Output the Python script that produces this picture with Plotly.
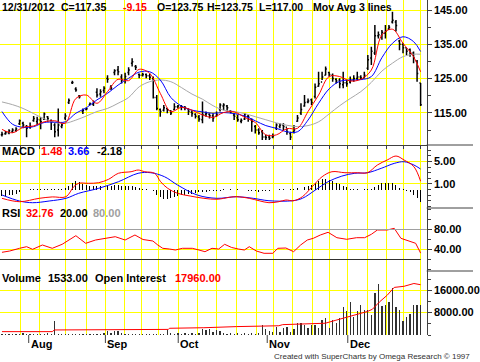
import plotly.graph_objects as go

# ---------------- data ----------------
bar_index = list(range(120))

high = [109.5,109.7,110.2,110.5,110.8,113.1,112.4,111.5,112.2,114.1,113.9,113.7,115.1,114.1,113.1,112.0,116.3,112.2,114.9,119.2,
        124.4,122.5,120.2,116.3,116.6,118.0,118.6,122.2,121.9,122.8,126.0,123.1,127.7,128.7,126.3,126.7,128.3,130.9,129.0,
        126.5,126.7,126.5,126.5,125.6,120.2,116.3,117.3,116.3,115.8,117.8,117.3,117.3,117.0,116.3,115.8,114.9,114.4,118.3,115.4,
        114.9,114.9,115.4,117.8,117.8,117.3,115.8,114.9,114.4,113.4,114.9,114.4,113.4,111.5,110.5,110.0,108.6,108.6,109.0,112.0,112.0,
        112.0,110.5,109.5,111.5,114.4,117.8,120.2,119.2,119.2,123.6,127.0,127.0,128.5,127.0,126.5,125.1,125.1,127.0,124.6,125.6,
        126.0,127.0,126.0,127.0,131.9,134.3,140.6,138.7,139.2,140.6,140.6,144.5,142.1,136.3,135.3,133.8,133.8,132.9,130.4,123.75]
low = [108.1,108.6,108.8,109.2,109.5,111.5,110.5,107.9,110.4,112.4,111.5,110.2,112.9,112.4,110.0,107.9,108.1,110.5,112.9,117.6,
       123.4,121.2,119.2,114.7,115.8,117.2,117.0,119.5,119.7,120.7,123.8,121.7,126.0,126.0,123.6,123.6,126.0,128.5,127.5,
       125.1,125.6,125.1,124.6,119.2,115.8,113.9,115.4,114.9,114.4,115.8,116.3,115.8,115.8,114.4,113.9,113.4,112.4,112.0,113.9,
       113.4,112.4,113.9,115.4,115.8,115.4,114.9,112.9,112.4,112.0,112.9,112.4,109.5,109.0,108.6,107.1,107.1,107.1,107.6,110.0,110.5,
       110.0,108.6,107.1,109.0,112.4,114.4,116.8,117.8,117.3,119.2,122.6,124.6,126.0,125.6,124.1,123.6,122.2,122.2,122.6,123.6,
       124.1,124.6,124.6,125.1,127.5,129.0,131.9,136.7,136.3,136.7,139.2,141.1,138.7,133.3,132.4,131.9,131.4,129.5,124.1,117.0]
close = [108.8,109.2,109.8,110.0,110.3,112.7,111.5,110.5,111.0,113.4,113.1,112.4,114.7,113.4,112.4,109.5,111.5,111.5,114.1,118.6,
         123.9,121.7,119.7,115.8,116.2,117.6,118.0,120.2,121.2,122.2,124.8,122.2,127.3,127.0,124.6,125.6,127.5,129.9,128.3,
         126.0,126.2,125.8,125.4,119.5,116.3,115.4,116.5,115.8,115.0,116.8,117.0,116.8,116.5,115.5,114.8,114.0,113.2,114.5,114.8,
         114.2,113.5,114.5,117.3,117.3,116.5,115.3,114.0,113.0,112.8,114.5,113.8,112.5,110.0,109.2,108.0,107.8,107.6,108.3,111.5,111.5,
         111.0,109.5,108.0,110.0,113.5,116.0,118.0,118.5,118.0,122.5,123.5,125.5,127.8,126.2,125.0,124.3,123.5,123.8,123.5,124.5,
         125.0,125.5,125.2,126.0,130.5,133.0,137.5,137.8,138.5,138.8,140.0,142.0,140.5,135.0,134.0,133.0,132.5,131.0,126.5,117.35]
open_ = [108.6,108.9,109.2,109.6,109.9,111.8,112.0,111.0,110.8,112.8,112.5,112.9,113.2,113.9,112.8,111.5,110.0,111.0,113.5,118.0,
         123.8,122.0,119.9,115.5,116.0,117.4,117.5,121.0,120.5,121.5,125.0,122.5,126.8,127.5,125.5,124.5,126.8,129.5,128.5,
         126.2,126.0,126.2,125.8,125.0,119.5,116.0,115.8,116.3,115.6,116.0,116.8,117.0,116.6,116.2,115.2,114.6,113.8,113.0,114.6,
         114.6,114.2,114.0,116.0,117.0,117.0,115.6,114.4,113.6,112.6,113.2,114.0,113.0,111.0,110.0,109.5,108.0,108.0,108.0,110.5,111.0,
         111.5,110.8,109.0,109.5,112.6,115.0,117.0,118.2,118.8,119.8,122.8,124.0,126.0,126.8,126.0,124.8,124.6,123.2,123.8,124.0,
         124.6,125.0,125.5,125.2,128.0,131.0,132.5,137.5,137.5,138.2,139.5,141.5,141.5,136.0,135.0,134.0,133.5,132.5,130.0,123.75]

# moving averages (sampled every 3 bars)
ma_index = [0,3,6,9,12,15,18,21,24,27,30,33,36,39,42,45,48,51,54,57,60,63,66,69,72,75,78,81,84,87,90,93,96,99,102,105,108,111,114,117,119]
ma_fast = [110.2,109.2,110.8,111.2,112.4,112.7,112.0,119.2,120.2,117.8,121.2,124.8,124.4,127.7,
           126.5,120.7,115.4,116.6,115.8,114.4,113.7,115.1,115.3,113.7,112.2,108.6,108.6,
           110.4,110.5,115.4,120.2,125.6,125.6,124.3,124.8,127.5,137.7,139.4,135.3,131.4,127.0]
ma_mid = [115.4,111.7,110.8,111.0,112.2,112.3,112.4,114.9,116.5,118.8,120.7,123.1,125.1,126.9,
          127.0,124.6,119.5,117.0,115.8,115.3,114.9,115.1,114.8,114.1,112.7,111.3,110.5,
          109.5,109.5,112.9,117.8,122.0,124.2,124.6,124.7,125.6,131.1,135.3,137.2,135.8,132.9]
ma_slow = [118.2,117.4,116.3,114.8,113.3,112.2,112.0,112.9,114.1,115.4,116.3,117.8,119.5,122.6,
           124.1,124.6,124.1,122.4,120.5,119.0,117.1,115.8,115.4,114.8,113.9,113.0,112.1,
           111.4,111.0,111.3,112.4,114.7,117.1,119.2,121.2,123.9,127.2,129.5,131.4,132.1,132.1]

# MACD
macd_x = [0,5,10.6,14.3,18.2,20.4,21.8,24.6,27.5,30.3,33.1,36.7,38.7,40.6,43.4,45.1,47.1,49.9,53.5,57.4,61.1,64.7,66.7,70.3,
          73.1,75.9,78.7,80.7,82.9,85.4,88.2,91.0,93.8,97.5,101.1,103.9,106.7,109.5,112.0,114.3,117.1,119]
macd_line = [-1.55,-2.15,-1.55,-1.3,-1.26,0.52,1.12,1.12,1.23,1.83,2.9,3.18,3.48,3.18,2.9,1.4,0.23,-0.66,-1.14,-1.55,-1.72,-1.37,
             -1.26,-1.55,-1.98,-2.33,-2.15,-1.85,-1.98,-1.26,0.52,2.29,3.18,3.0,3.0,3.0,4.37,5.26,5.97,5.26,4.07,1.48]
signal_x = [0,5,8.7,13.4,18.2,21.8,27.5,33.1,38.7,42.3,46.2,49.9,55.5,61.1,66.7,71.4,75.9,82.6,85.4,89.1,92.7,96.6,100.3,103.9,
            107.8,111.5,114.3,117.1,119]
signal_line = [-0.96,-2.03,-2.33,-2.03,-1.55,-0.66,0.23,1.4,2.9,3.0,2.29,0.82,-0.96,-1.55,-1.26,-1.55,-1.98,-1.98,-1.55,-0.07,
               1.4,2.4,2.9,3.0,3.78,4.66,4.96,4.37,3.66]
macd_hist = [-1.1,-1.1,-1.0,-0.9,-0.7,-0.4,
             -0.15,-0.15,0.15,0.15,0.15,0.15,0.15,0.15,0.15,0.15,0.15,0.15,
             0.3,0.6,
             1.2,1.5,1.4,1.0,0.8,0.7,
             0.7,0.7,0.7,0.7,0.7,0.7,0.8,0.8,0.7,0.7,0.7,0.6,0.5,0.3,
             0.15,0.15,-0.15,-0.2,
             -0.9,-1.4,-1.6,-1.6,-1.5,-1.4,
             -1.2,-1.0,-0.9,-0.8,-0.7,-0.6,-0.5,
             -0.4,-0.35,-0.3,-0.3,-0.2,-0.2,
             0.15,-0.15,0.15,-0.15,0.15,-0.15,-0.15,
             -0.2,-0.3,-0.3,-0.35,-0.3,-0.3,-0.2,-0.15,
             -0.15,0.15,0.15,-0.15,0.15,0.15,
             0.3,0.4,0.5,0.7,0.9,
             1.2,1.5,1.8,1.9,1.7,1.5,
             1.2,1.0,0.7,0.4,
             0.15,0.15,0.15,-0.15,0.15,0.15,0.15,
             0.5,0.9,1.1,1.2,1.2,1.1,0.8,
             0.3,0.15,
             -0.2,-0.5,-0.9,-1.5,-2.18]

# RSI
rsi_x = [0,2.2,5,7,8.7,11.5,14.3,17.1,21,23.8,26.6,29.4,32.2,35,37.8,40.1,42.9,44.3,45.7,47.6,49.3,51.3,54.1,56,57.7,
         59.7,61.6,63.3,65.3,67.2,68.9,70.3,72.3,74.5,77,78.4,80.7,82.9,84.9,86.8,88.5,90.5,92.7,95.2,98,100.8,103.1,105,
         106.7,109.5,111.5,113.4,115.7,117.6,119]
rsi = [34.4,37,42.4,45.6,40.4,49,42.4,50.4,67.6,52.4,59,62.4,65.6,59,69,60,57,49,42.4,41,39,42.4,42.4,39,35.6,
       42.4,41,50.4,44,41,39,45.6,37,32.4,32.4,42.4,43,35.6,49,59,62.4,69,74.4,63.6,60.4,63.6,63.6,70.4,
       79,79,82.4,62.4,57,52.4,32.8]
rsi_upper, rsi_lower = 80.0, 20.0

# Volume and open interest
volume = [500,400,500,400,500,400,600,400,500,400,500,400,500,600,500,
          5000,
          500,400,500,400,500,400,500,400,500,400,500,400,500,600,
          1300,800,1300,1300,800,
          500,400,500,400,500,400,500,400,500,400,500,400,
          1800,
          600,500,600,500,600,500,600,500,600,
          2000,1800,2000,1200,1800,1500,
          600,500,600,500,600,500,600,500,600,500,600,
          3600,2000,1500,1000,3000,1200,2500,3000,1000,2000,4200,4200,3600,2400,3600,3600,2500,5400,5900,2500,
          5400,4200,5900,10100,8400,11900,6400,8700,10700,9100,9000,7000,14900,18200,10400,10700,11700,16700,
          9900,9100,5000,6300,7500,10600,10600,10600]
oi_x = [0,14.3,14.9,29.4,29.7,47.3,47.6,57.1,57.4,66.7,74.2,78.7,79.8,91.9,94.7,97.5,101.1,103.9,105.3,107.3,
        109.5,111.5,114.3,117.1,119]
open_interest = [1200,1200,1800,1800,2000,2000,2400,2400,2600,3000,3200,3300,3700,4200,5200,6200,7500,8400,9200,
                 11800,14200,17000,17400,18400,17960]

# axis ticks / labels
week_grid = [5.2,10.8,18.1,23.9,29.4,34.7,39.8,44.5,50.1,55.5,61.1,66.7,72.3,77.3,82.6,88.2,93.0,98.3,103.9,109.2,114.0,119.0]
month_pos = [7.6,29.4,50.1,75.4,98.3]
month_lbl = ["Aug","Sep","Oct","Nov","Dec"]
price_ticks = [115,125,135,145]
macd_ticks = [1,5]
rsi_ticks = [40,80]
vol_ticks = [8000,16000]

# ---------------- layout helpers ----------------
W, H = 480, 362
XR = 433 / W
def py(p):
    return 1 - p / H

YELLOW = "#FFFF00"
AX = "#404040"
FONT = "Liberation Sans, Arial, sans-serif"
XRANGE = [-0.56, 120.73]

fig = go.Figure()

# price panel
fig.add_trace(go.Scatter(x=ma_index, y=ma_slow, mode="lines", line=dict(color="#A8A8A8", width=1, shape="spline"),
                         xaxis="x", yaxis="y", hoverinfo="skip"))
fig.add_trace(go.Scatter(x=ma_index, y=ma_mid, mode="lines", line=dict(color="#0000FF", width=1, shape="spline"),
                         xaxis="x", yaxis="y", hoverinfo="skip"))
fig.add_trace(go.Scatter(x=ma_index, y=ma_fast, mode="lines", line=dict(color="#FF0000", width=1, shape="spline"),
                         xaxis="x", yaxis="y", hoverinfo="skip"))
fig.add_trace(go.Ohlc(x=bar_index, open=open_, high=high, low=low, close=close, tickwidth=0.35,
                      increasing=dict(line=dict(color="black", width=1.5)),
                      decreasing=dict(line=dict(color="black", width=1.5)),
                      xaxis="x", yaxis="y", hoverinfo="skip"))

# MACD panel
fig.add_trace(go.Bar(x=bar_index, y=macd_hist, width=0.28, marker=dict(color="black", line=dict(width=0)),
                     xaxis="x2", yaxis="y2", hoverinfo="skip"))
fig.add_trace(go.Scatter(x=signal_x, y=signal_line, mode="lines", line=dict(color="#0000FF", width=1, shape="spline"),
                         xaxis="x2", yaxis="y2", hoverinfo="skip"))
fig.add_trace(go.Scatter(x=macd_x, y=macd_line, mode="lines", line=dict(color="#FF0000", width=1, shape="spline"),
                         xaxis="x2", yaxis="y2", hoverinfo="skip"))

# RSI panel
fig.add_trace(go.Scatter(x=rsi_x, y=rsi, mode="lines", line=dict(color="#FF0000", width=1),
                         xaxis="x3", yaxis="y3", hoverinfo="skip"))

# Volume panel
fig.add_trace(go.Bar(x=bar_index, y=volume, width=0.36, marker=dict(color="#303030", line=dict(width=0)),
                     xaxis="x4", yaxis="y4", hoverinfo="skip"))
fig.add_trace(go.Scatter(x=oi_x, y=open_interest, mode="lines", line=dict(color="#FF0000", width=1),
                         xaxis="x4", yaxis="y4", hoverinfo="skip"))

tickfont = dict(family=FONT, size=11, color="black", weight="bold")

def xax(show_ticks):
    return dict(domain=[0, XR], range=XRANGE, tickmode="array", tickvals=week_grid, showgrid=True,
                gridcolor=YELLOW, gridwidth=1, showticklabels=False, zeroline=False,
                ticks="outside" if show_ticks else "", ticklen=3, tickcolor=AX,
                showline=show_ticks, linecolor=AX, linewidth=1, fixedrange=True,
                rangeslider=dict(visible=False))

def yax(anchor, dom, rng, tv, fmt, minor_dt):
    return dict(domain=dom, range=rng, anchor=anchor, side="right", tickmode="array", tickvals=tv,
                ticktext=[fmt(v) for v in tv], showgrid=True, gridcolor=YELLOW, gridwidth=1, zeroline=False,
                ticks="outside", ticklen=4, tickcolor=AX, showline=True, linecolor=AX, linewidth=1,
                tickfont=tickfont, fixedrange=True,
                minor=dict(tickmode="linear", tick0=0, dtick=minor_dt, ticks="outside", ticklen=3,
                           tickcolor=AX, showgrid=False))

f2 = lambda v: f"{v:.2f}"

layout = dict(
    width=W, height=H, margin=dict(l=0, r=0, t=0, b=0), paper_bgcolor="white", plot_bgcolor="white",
    showlegend=False, bargap=0,
    xaxis=xax(False), xaxis2=xax(False), xaxis3=xax(False), xaxis4=xax(True),
    yaxis=yax("x", [py(145), 1], [105.64, 147.92], price_ticks, f2, 5),
    yaxis2=yax("x2", [py(208), py(145)], [-3.27, 7.93], macd_ticks, f2, 1),
    yaxis3=yax("x3", [py(271), py(208)], [-3.0, 123.0], rsi_ticks, f2, 20),
    yaxis4=yax("x4", [py(335), py(271)], [0, 22860], vol_ticks, f2, 4000),
)
fig.update_layout(**layout)

shapes = []
# RSI level lines
shapes.append(dict(type="line", xref="x3 domain", x0=0, x1=1, yref="y3", y0=rsi_upper, y1=rsi_upper,
                   line=dict(color="#A0A0A0", width=1)))
shapes.append(dict(type="line", xref="x3 domain", x0=0, x1=0.986, yref="y3", y0=rsi_lower, y1=rsi_lower,
                   line=dict(color="#303030", width=1)))
# separators in the right axis area
for p in (145, 208, 271):
    shapes.append(dict(type="line", xref="paper", x0=XR, x1=1, yref="paper", y0=py(p), y1=py(p),
                       line=dict(color=AX, width=1)))
# long month ticks
for m in month_pos:
    shapes.append(dict(type="line", xref="x4", x0=m, x1=m, yref="paper", y0=py(335), y1=py(343),
                       line=dict(color=AX, width=1)))
fig.update_layout(shapes=shapes)

ann = []
def label(text, xpix, ypix, color="black", bold=True, size=11):
    ann.append(dict(text=text, xref="paper", yref="paper", x=xpix / W, y=py(ypix), xanchor="left",
                    yanchor="middle", showarrow=False,
                    font=dict(family=FONT, size=size, color=color, weight="bold" if bold else "normal")))

HS = 10.5
label("12/31/2012", 0, 6.5, size=HS)
label("C=117.35", 60, 6.5, size=HS)
label("-9.15", 123, 6.5, "#FF0000", size=HS)
label("O=123.75", 157, 6.5, size=HS)
label("H=123.75", 208, 6.5, size=HS)
label("L=117.00", 261, 6.5, size=HS)
label("Mov Avg 3 lines", 316, 6.5, size=HS)

label("MACD", 0, 151.5)
label("1.48", 40, 151.5, "#FF0000")
label("3.66", 67, 151.5, "#0000FF")
label("-2.18", 96, 151.5)

label("RSI", 0, 212.5)
label("32.76", 24, 212.5, "#FF0000")
label("20.00", 59, 212.5)
label("80.00", 92, 212.5, "#A0A0A0")

label("Volume", 0, 277.5)
label("1533.00", 47, 277.5)
label("Open Interest", 94, 277.5)
label("17960.00", 176, 277.5, "#FF0000")

for m, t in zip(month_pos, month_lbl):
    ann.append(dict(text=t, xref="x4", yref="paper", x=m, y=py(344), xanchor="left", yanchor="middle",
                    showarrow=False, font=dict(family=FONT, size=11, color="black", weight="bold")))

label("Created with SuperCharts by Omega Research \u00a9 1997", 276, 356, "#303030", bold=False, size=8)
fig.update_layout(annotations=ann)

fig.write_html("out.html", config=dict(displayModeBar=False, staticPlot=True))
